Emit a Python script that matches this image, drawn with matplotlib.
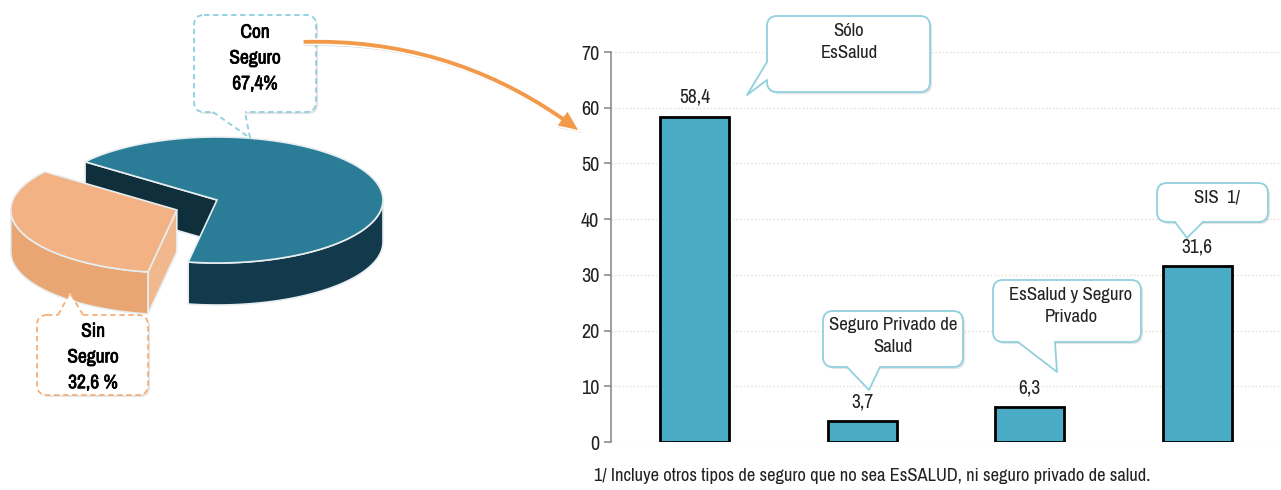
"""
Afiliación a seguro de salud: pastel 3D (con / sin seguro) y barras por tipo de seguro
"""
import numpy as np
import matplotlib
matplotlib.use('Agg')
import matplotlib.pyplot as plt
from matplotlib import font_manager as fm
from matplotlib.patches import Polygon, FancyBboxPatch, FancyArrowPatch
import matplotlib.patheffects as pe

# Buscar una fuente estrecha (parecida a Univers Condensed)
narrow = [f for f in fm.fontManager.ttflist
          if 'narrow' in f.name.lower() or 'condensed' in f.name.lower()]
condensed = [f for f in fm.fontManager.ttflist
             if f.stretch in ('condensed', 'semi-condensed', 575, 500, 625) or
             'condensed' in f.fname.lower()]
SCALE = 1.0
if narrow:
    plt.rcParams['font.family'] = [narrow[0].name, 'DejaVu Sans']
elif condensed:
    plt.rcParams['font.family'] = [condensed[0].name, 'DejaVu Sans']
    plt.rcParams['font.stretch'] = 'condensed'
else:
    plt.rcParams['font.family'] = ['Liberation Sans', 'DejaVu Sans']
    SCALE = 0.85

# Datos
pie_labels = ['Con\nSeguro\n67,4%', 'Sin\nSeguro\n32,6 %']
pie_values = [67.4, 32.6]

bar_categories = ['Sólo\nEsSalud', 'Seguro Privado de\nSalud', 'EsSalud y Seguro\nPrivado', 'SIS  1/']
bar_values = [58.4, 3.7, 6.3, 31.6]
bar_labels = ['58,4', '3,7', '6,3', '31,6']
y_ticks = [0, 10, 20, 30, 40, 50, 60, 70]
footnote = '1/ Incluye otros tipos de seguro que no sea EsSALUD, ni seguro privado de salud.'

W, H = 1281, 490
fig = plt.figure(figsize=(W / 100, H / 100), dpi=100)

# ---- Barras ----
ax = fig.add_axes([611 / W, 48 / H, 1 - 611 / W, 390 / H])
x = np.arange(len(bar_values))
ax.bar(x, bar_values, width=0.41, color='#4aabc6', edgecolor='black', linewidth=2, zorder=3)
for xi, v, lab in zip(x, bar_values, bar_labels):
    ax.annotate(lab, (xi, v), xytext=(0, 7), textcoords='offset points',
                ha='center', va='bottom', fontsize=14 * SCALE, color='#222222')
ax.set_xlim(-0.5, len(bar_values) - 0.5)
ax.set_ylim(0, 70)
ax.set_yticks(y_ticks)
ax.set_xticks([])
ax.tick_params(axis='y', labelsize=14.5 * SCALE, colors='#8c8c8c', labelcolor='#222222',
               length=5, width=1.2)
for s in ['top', 'right', 'bottom']:
    ax.spines[s].set_visible(False)
ax.spines['left'].set_color('#8c8c8c')
ax.spines['left'].set_linewidth(1.2)
ax.grid(axis='y', color='#e3dfcc', linestyle=':', linewidth=1, zorder=0)

# ---- Capa de dibujo (coordenadas en píxeles) ----
ov = fig.add_axes([0, 0, 1, 1], zorder=5)
ov.set_xlim(0, W)
ov.set_ylim(H, 0)
ov.axis('off')
ov.patch.set_visible(False)

# Pastel 3D
cx, cy, a, b, depth = 217, 200, 166, 63, 42
start = -100.0


def rim(c, t, dz=0):
    t = np.radians(t)
    return np.column_stack([c[0] + a * np.cos(t), c[1] - b * np.sin(t) + dz])


def side(c, t0, t1):
    t = np.linspace(t0, t1, 80)
    return np.vstack([rim(c, t), rim(c, t[::-1], depth)])


def cut(c, t):
    p = rim(c, [t])[0]
    return [c, p, (p[0], p[1] + depth), (c[0], c[1] + depth)]


angles = np.cumsum([0] + [v / sum(pie_values) * 360 for v in pie_values]) + start
edge = dict(edgecolor='#e8eef0', linewidth=1.2)

# Con Seguro
t0, t1 = angles[0], angles[1]
c_blue = (cx, cy)
ov.add_patch(Polygon(cut(c_blue, t1), closed=True, facecolor='#0f2f3d', **edge))
ov.add_patch(Polygon(side(c_blue, t0, min(t1, 0)), closed=True, facecolor='#123a4c', **edge))
top = np.vstack([[c_blue], rim(c_blue, np.linspace(t0, t1, 200))])
ov.add_patch(Polygon(top, closed=True, facecolor='#2a7c97', **edge))

# Sin Seguro (separado)
t0, t1 = angles[1], angles[2]
mid = np.radians((t0 + t1) / 2)
ex = 0.26
c_or = (cx + ex * a * np.cos(mid), cy - ex * b * np.sin(mid) + 4)
ov.add_patch(Polygon(cut(c_or, t1), closed=True, facecolor='#f1b88d', **edge))
ov.add_patch(Polygon(side(c_or, max(t0, 180), t1), closed=True, facecolor='#e9a673', **edge))
top = np.vstack([[c_or], rim(c_or, np.linspace(t0, t1, 120))])
ov.add_patch(Polygon(top, closed=True, facecolor='#f2b283', **edge))


def callout(x0, y0, x1, y1, base, tip, inward, color, ls, rs=10):
    ov.add_patch(FancyBboxPatch((x0, y0), x1 - x0, y1 - y0,
                                boxstyle=f'round,pad=0,rounding_size={rs}',
                                facecolor='white', edgecolor=color, linestyle=ls,
                                linewidth=1.3, zorder=2,
                                path_effects=[pe.SimplePatchShadow(offset=(1.5, -1.5), alpha=0.15),
                                              pe.Normal()]))
    b0, b1 = np.array(base[0], float), np.array(base[1], float)
    iv = np.array(inward, float) * 4
    ov.add_patch(Polygon([b0 + iv, b0, tip, b1, b1 + iv], closed=True,
                         facecolor='white', edgecolor='none', zorder=3))
    ov.plot([b0[0], tip[0], b1[0]], [b0[1], tip[1], b1[1]], color=color,
            linestyle=ls, linewidth=1.3, zorder=4)


# texto en negrita (la fuente estrecha no trae variante bold)
bold = [pe.withStroke(linewidth=0.5, foreground='black')]

# Llamadas del pastel
callout(194, 15, 316, 112, [(213, 112), (245, 112)], (250, 138), (0, -1), '#8fcfe0', (0, (3, 2)))
ov.text(255, 58, pie_labels[0], ha='center', va='center', fontsize=14 * SCALE,
        fontweight='bold', linespacing=1.45, zorder=5, path_effects=bold)
callout(37, 315, 148, 395, [(58, 315), (83, 315)], (70, 293), (0, 1), '#f5b07a', (0, (3, 2)))
ov.text(93, 357, pie_labels[1], ha='center', va='center', fontsize=14 * SCALE,
        fontweight='bold', linespacing=1.45, zorder=5, path_effects=bold)

# Flecha
arrow = FancyArrowPatch((300, 42), (582, 133), connectionstyle='arc3,rad=-0.18',
                        arrowstyle='simple,head_width=14,head_length=16,tail_width=4',
                        facecolor='#f39a4a', edgecolor='white', linewidth=1.2, zorder=6,
                        path_effects=[pe.SimplePatchShadow(offset=(1, -1), alpha=0.25), pe.Normal()])
ov.add_patch(arrow)

# Llamadas de las barras
blue_edge = '#92d0de'
txt = dict(ha='center', va='center', fontsize=13.5 * SCALE, linespacing=1.4,
           color='#222222', zorder=5)
callout(767, 16, 930, 92, [(767, 62), (767, 80)], (747, 95), (1, 0), blue_edge, '-')
ov.text(849, 42, bar_categories[0], **txt)
callout(823, 311, 963, 367, [(847, 367), (880, 367)], (869, 390), (0, -1), blue_edge, '-')
ov.text(893, 336, bar_categories[1], **txt)
callout(993, 280, 1141, 342, [(1018, 342), (1055, 342)], (1057, 372), (0, -1), blue_edge, '-')
ov.text(1071, 306, bar_categories[2], **txt)
callout(1157, 183, 1268, 222, [(1175, 222), (1203, 222)], (1187, 238), (0, -1), blue_edge, '-')
ov.text(1217, 197, bar_categories[3], **txt)

# Nota
ov.text(594, 476, footnote, ha='left', va='center', fontsize=13.3 * SCALE, color='#222222')

fig.savefig('out.png', dpi=100, facecolor='white')
